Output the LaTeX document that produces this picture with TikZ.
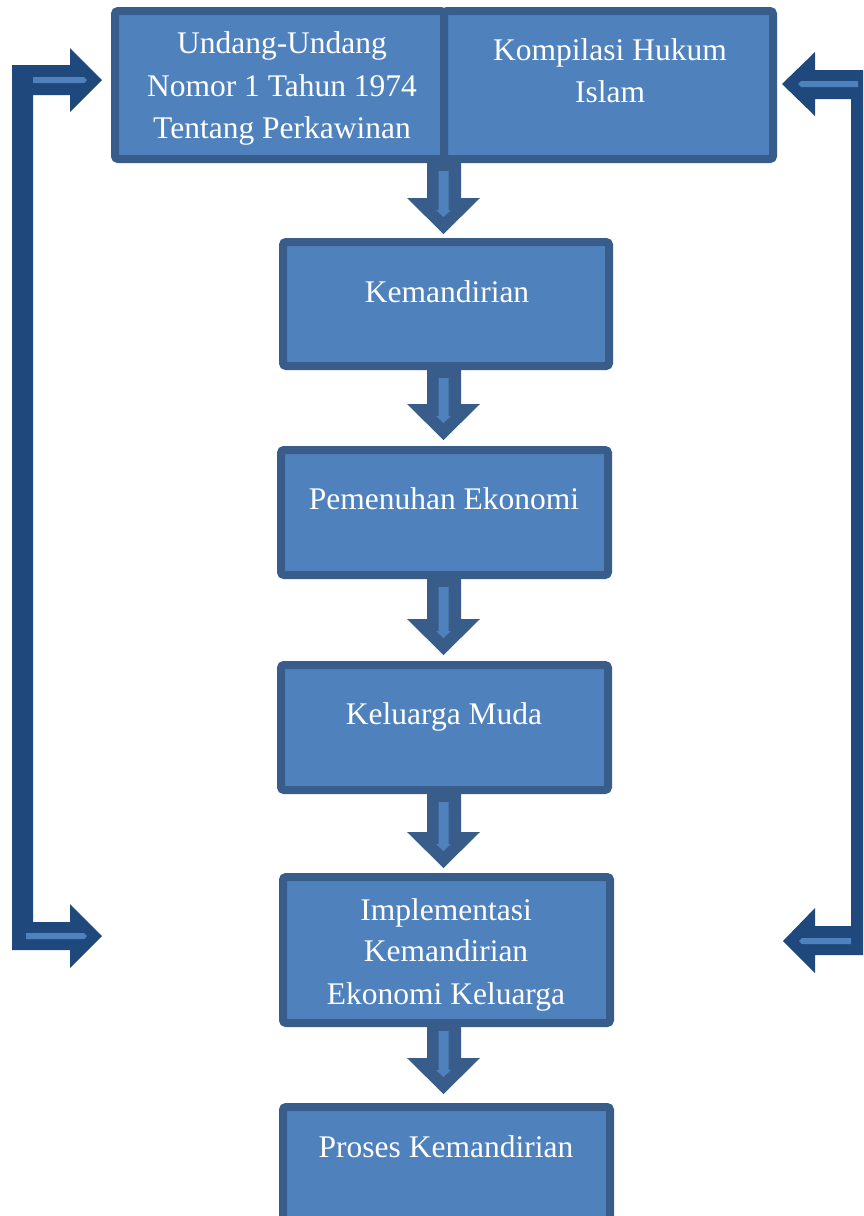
\documentclass[tikz,border=0pt]{standalone}
\usepackage{fontspec}
\setmainfont{Liberation Serif}
\definecolor{boxfill}{HTML}{4F81BD}
\definecolor{boxline}{HTML}{385D8A}
\definecolor{sidedark}{HTML}{1F497D}
\tikzset{
  box/.style={draw=boxline, fill=boxfill, line width=8pt, rounded corners=3pt, inner sep=0pt, rectangle},
  lbl/.style={text=white, font=\fontsize{31.5}{42}\selectfont, align=center, inner sep=0pt, anchor=base},
  inner line/.style={fill=boxfill},
}
\newcommand{\blockarr}[2]{%
  \fill[boxline] (427,#1) -- (461,#1) -- (461,{#2-36}) -- (480,{#2-36}) -- (443.5,#2)
     -- (407,{#2-36}) -- (427,{#2-36}) -- cycle;
  \fill[boxfill] (438.5,{#1+12}) -- (448.5,{#1+12}) -- (448.5,{#2-24}) -- (451,{#2-24})
     -- (443.5,{#2-17}) -- (436,{#2-24}) -- (438.5,{#2-24}) -- cycle;
}
\begin{document}
\begin{tikzpicture}[x=1pt,y=-1pt]
\clip (0,0) rectangle (863,1216);
\fill[white] (0,0) rectangle (863,1216);
% boxes
\node[box, minimum width=329pt, minimum height=148pt] (uu) at (279.5,85) {};
\node[box, minimum width=329pt, minimum height=148pt] (khi) at (608.5,85) {};
\node[box, minimum width=326pt, minimum height=124pt] (kem) at (446,304) {};
\node[box, minimum width=327pt, minimum height=125pt] (pem) at (444.5,512.5) {};
\node[box, minimum width=327pt, minimum height=125pt] (kel) at (444.5,727.5) {};
\node[box, minimum width=327pt, minimum height=146pt] (imp) at (446.5,950) {};
\node[box, minimum width=327pt, minimum height=140pt] (pro) at (446.5,1177) {};
% texts
\node[lbl] (t1a) at (282,53) {Undang-Undang};
\node[lbl] (t1b) at (282,96) {Nomor 1 Tahun 1974};
\node[lbl] (t1c) at (282,138) {Tentang Perkawinan};
\node[lbl] (t2a) at (610,60) {Kompilasi Hukum};
\node[lbl] (t2b) at (610,102) {Islam};
\node[lbl] (t3) at (447,302) {Kemandirian};
\node[lbl] (t4) at (444,509) {Pemenuhan Ekonomi};
\node[lbl] (t5) at (444,724) {Keluarga Muda};
\node[lbl] (t6a) at (446,920) {Implementasi};
\node[lbl] (t6b) at (446,961) {Kemandirian};
\node[lbl] (t6c) at (446,1004) {Ekonomi Keluarga};
\node[lbl] (t7) at (446,1157) {Proses Kemandirian};
% block arrows down
\blockarr{159}{234}
\blockarr{366}{440}
\blockarr{575}{655}
\blockarr{790}{868}
\blockarr{1019}{1094}
% left bracket arrow
\coordinate (lt) at (102,80);
\coordinate (lb) at (102,936);
\fill[sidedark] (12,65) -- (70,65) -- (70,48) -- (lt) -- (70,112) -- (70,95) -- (33,95)
  -- (33,922) -- (70,922) -- (70,904) -- (lb) -- (70,968) -- (70,950) -- (12,950) -- cycle;
\fill[boxfill] (33,77) -- (84,77) -- (87,80) -- (84,83) -- (33,83) -- cycle;
\fill[boxfill] (26,933) -- (84,933) -- (87,936) -- (84,939) -- (26,939) -- cycle;
% right bracket arrow
\coordinate (rt) at (782,84);
\coordinate (rb) at (783,941);
\fill[sidedark] (866,70) -- (815,70) -- (815,52) -- (rt) -- (815,116) -- (815,99) -- (851,99)
  -- (851,926) -- (815,926) -- (815,908) -- (rb) -- (815,973) -- (815,955) -- (866,955) -- cycle;
\fill[boxfill] (858,81) -- (801,81) -- (798,84) -- (801,87) -- (858,87) -- cycle;
\fill[boxfill] (851,938) -- (802,938) -- (799,941) -- (802,944) -- (851,944) -- cycle;
\end{tikzpicture}
\end{document}
